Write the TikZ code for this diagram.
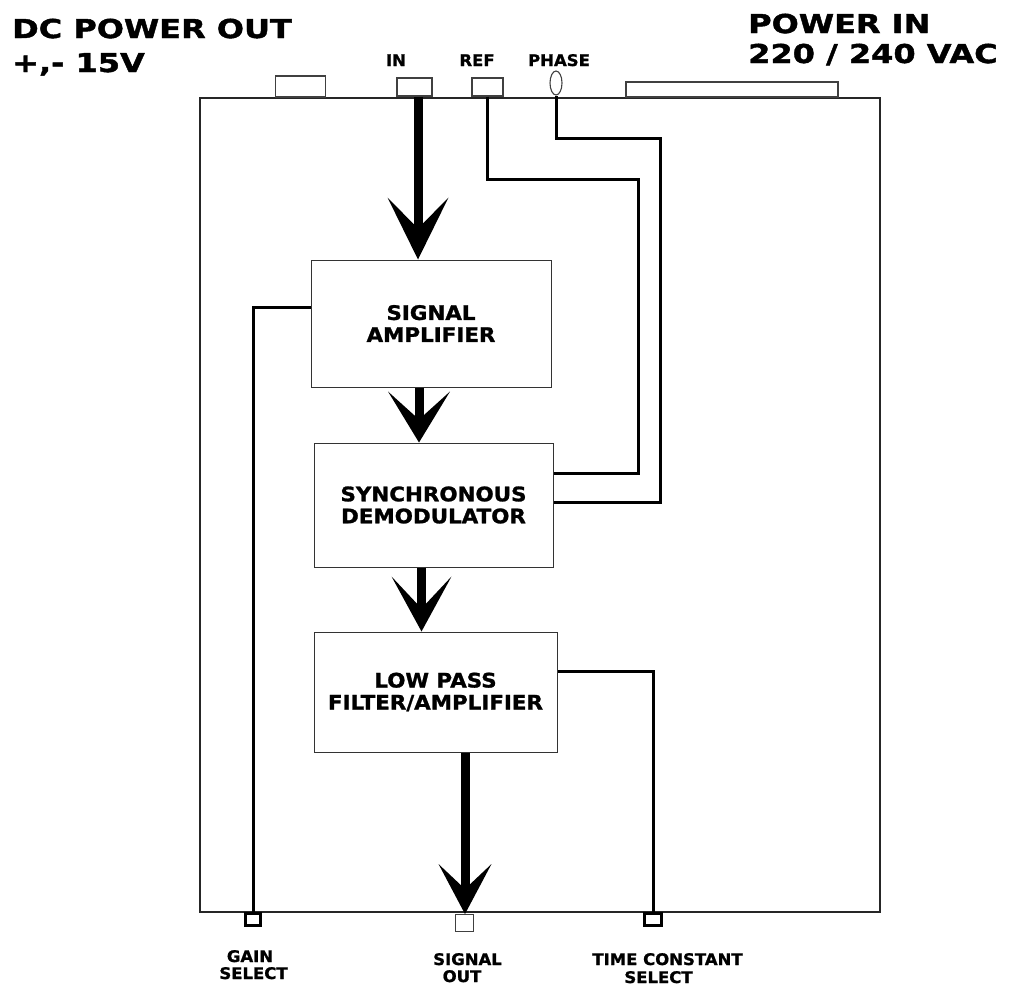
\documentclass[tikz,border=0pt]{standalone}
\usepackage{fontspec}
\setmainfont{DejaVu Sans}
\newfontfamily\titlefont[FakeStretch=1.23,FakeBold=1.6]{DejaVu Sans}
\newfontfamily\boxfont[FakeStretch=1.07,FakeBold=1.3]{DejaVu Sans}
\newfontfamily\smallfont[FakeStretch=1.03,FakeBold=1.1]{DejaVu Sans}
\usetikzlibrary{arrows.meta,shapes.geometric}
\begin{document}
\begin{tikzpicture}[x=1pt,y=-1pt,
  title/.style={anchor=base west,inner sep=0pt,font=\titlefont\bfseries\fontsize{26}{30}\selectfont},
  small/.style={anchor=base,inner sep=0pt,font=\smallfont\bfseries\fontsize{16}{18}\selectfont},
  block/.style={draw=black!80,line width=1pt,inner sep=0pt,align=center,
    font=\boxfont\bfseries\fontsize{20}{22}\selectfont},
  port/.style={draw=black!75,line width=1.1pt,inner sep=0pt,fill=white},
  sel/.style={draw=black,line width=3pt,inner sep=0pt,minimum height=12pt},
  conn/.style={draw=black,line width=3pt},
  fat/.style={draw=black,line width=9pt,-{Stealth[length=55pt,width=60pt,inset=28pt,line width=0pt]}},
]
\useasboundingbox (0,0) rectangle (1019,985);

% main chassis
\draw[black!85,line width=1.2pt] (200,98) rectangle (880,912);

% top connectors
\node[port,minimum width=50pt,minimum height=21pt] (dcout) at (300.5,86.5) {};
\node[port,minimum width=35pt,minimum height=18pt] (in) at (414.5,87) {};
\node[port,minimum width=31pt,minimum height=18pt] (ref) at (487.5,87) {};
\node[port,ellipse,minimum width=12pt,minimum height=24pt] (phase) at (556,83) {};
\node[port,minimum width=212pt,minimum height=15pt] (pwrin) at (732,89.5) {};

% titles
\node[title] (t1) at (12,38) {DC POWER OUT};
\node[title] (t2) at (12,72) {+,- 15V};
\node[title] (t3) at (748,33) {POWER IN};
\node[title] (t4) at (748,63) {220 / 240 VAC};

% top labels
\node[small] (lin) at (396,66) {IN};
\node[small] (lref) at (477,66) {REF};
\node[small] (lphase) at (559,66) {PHASE};

% blocks
\node[block,minimum width=240pt,minimum height=127pt] (sa) at (431,323.5) {SIGNAL\\AMPLIFIER};
\node[block,minimum width=239pt,minimum height=124pt] (sd) at (433.5,505) {SYNCHRONOUS\\DEMODULATOR};
\node[block,minimum width=243pt,minimum height=120pt] (lp) at (435.5,692) {LOW PASS\\FILTER/AMPLIFIER};

% bottom ports
\node[sel,minimum width=15pt] (gsel) at (253,919.5) {};
\node[port,minimum width=18pt,minimum height=17pt,line width=1pt] (sout) at (464.5,923) {};
\node[sel,minimum width=17pt] (tsel) at (653,919.5) {};

% bottom labels
\node[small] (lg1) at (250,962) {GAIN};
\node[small] (lg2) at (253.5,979) {SELECT};
\node[small] (ls1) at (467.5,965) {SIGNAL};
\node[small] (ls2) at (462,982) {OUT};
\node[small] (lt1) at (667.5,965) {TIME CONSTANT};
\node[small] (lt2) at (658.5,983) {SELECT};

% helper coordinates
\coordinate (a1) at (418,0);
\coordinate (a2) at (419,0);
\coordinate (a3) at (421.5,0);
\coordinate (a4) at (465,0);
\coordinate (gy) at (0,307);
\coordinate (ty) at (0,671);
\coordinate (refc) at (638,179);
\coordinate (refy) at (0,473);
\coordinate (phc) at (660,138);
\coordinate (phy) at (0,502);

% thick signal arrows
\draw[fat,-{Stealth[length=62pt,width=61pt,inset=31pt,line width=0pt]}] (in.south -| a1) -- (sa.north -| a1);
\draw[fat,-{Stealth[length=51pt,width=62pt,inset=28pt,line width=0pt]}] (sa.south -| a2) -- (sd.north -| a2);
\draw[fat,-{Stealth[length=55pt,width=60pt,inset=32pt,line width=0pt]}] (sd.south -| a3) -- (lp.north -| a3);
\draw[fat,-{Stealth[length=50pt,width=53pt,inset=25pt,line width=0pt]}] (lp.south -| a4) -- (sout.north -| a4);

% control connections
\draw[conn] (gsel.north) |- (sa.west |- gy);
\draw[conn] (tsel.north) |- (lp.east |- ty);
\draw[conn] (ref.south) |- (refc) |- (sd.east |- refy);
\draw[conn] (phase.south) |- (phc) |- (sd.east |- phy);
\end{tikzpicture}
\end{document}
